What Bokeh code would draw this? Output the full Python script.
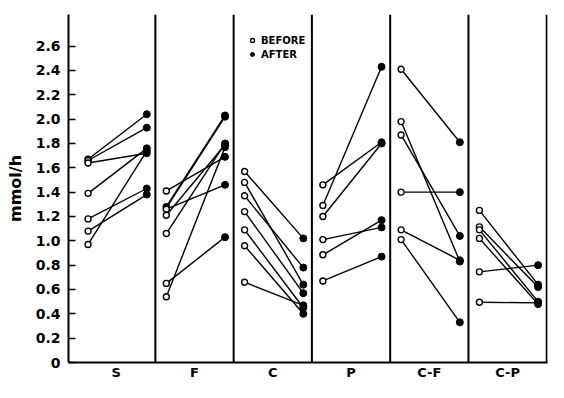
from bokeh.plotting import figure
from bokeh.models import Span, FixedTicker, Legend, LegendItem, Range1d
from bokeh.embed import file_html
from bokeh.resources import INLINE

categories = ["S", "F", "C", "P", "C-F", "C-P"]

before_S = [1.67, 1.66, 1.64, 1.39, 1.18, 1.08, 0.97]
after_S = [2.04, 1.93, 1.72, 1.76, 1.43, 1.38, 1.74]
before_F = [1.41, 1.28, 1.27, 1.26, 1.21, 1.06, 0.65, 0.54]
after_F = [1.69, 2.03, 2.02, 1.46, 1.79, 1.80, 1.03, 1.77]
before_C = [1.57, 1.48, 1.37, 1.24, 1.09, 0.96, 0.66]
after_C = [1.02, 0.64, 0.78, 0.57, 0.45, 0.40, 0.47]
before_P = [1.46, 1.29, 1.20, 1.01, 0.885, 0.67]
after_P = [1.81, 2.43, 1.80, 1.11, 1.17, 0.87]
before_CF = [2.41, 1.98, 1.87, 1.40, 1.09, 1.01]
after_CF = [1.81, 0.83, 1.04, 1.40, 0.84, 0.33]
before_CP = [1.25, 1.115, 1.09, 1.02, 0.745, 0.495]
after_CP = [0.64, 0.62, 0.50, 0.48, 0.80, 0.49]

y_ticks = [0, 0.2, 0.4, 0.6, 0.8, 1.0, 1.2, 1.4, 1.6, 1.8, 2.0, 2.2, 2.4, 2.6]
y_tick_labels = ["0", "0.2", "0.4", "0.6", "0.8", "1.0", "1.2", "1.4", "1.6",
                 "1.8", "2.0", "2.2", "2.4", "2.6"]

before_all = [before_S, before_F, before_C, before_P, before_CF, before_CP]
after_all = [after_S, after_F, after_C, after_P, after_CF, after_CP]

BX = 0.14   # position of "before" column inside a panel
AX = 0.89   # position of "after" column inside a panel

x0, y0, x1, y1 = [], [], [], []
for i, (b, a) in enumerate(zip(before_all, after_all)):
    for vb, va in zip(b, a):
        x0.append(i + BX); y0.append(vb)
        x1.append(i + AX); y1.append(va)

FONT = "DejaVu Sans"

p = figure(width=548, height=382, output_backend="svg", toolbar_location=None,
           x_range=Range1d(-0.11, 6.01), y_range=Range1d(0, 2.86),
           min_border_left=68, min_border_right=1, min_border_top=14,
           min_border_bottom=0)
p.grid.visible = False
p.outline_line_color = None
p.background_fill_color = "white"

# panel dividers and right border
for k in range(1, len(categories) + 1):
    p.add_layout(Span(location=k, dimension="height", line_color="black",
                      line_width=2))

p.segment(x0, y0, x1, y1, line_color="black", line_width=1.4)
rb = p.scatter(x0, y0, size=6, marker="circle", fill_color="white",
               line_color="black", line_width=1.4)
ra = p.scatter(x1, y1, size=7, marker="circle", fill_color="black",
               line_color="black")

# y axis
p.yaxis.ticker = FixedTicker(ticks=y_ticks)
p.yaxis.major_label_overrides = {t: l for t, l in zip(y_ticks, y_tick_labels)}
p.yaxis.major_tick_in = 7
p.yaxis.major_tick_out = 0
p.yaxis.minor_tick_line_color = None
p.yaxis.axis_line_width = 2
p.yaxis.major_tick_line_width = 1.5
p.yaxis.major_label_text_font = FONT
p.yaxis.major_label_text_font_style = "bold"
p.yaxis.major_label_text_font_size = "14px"
p.yaxis.major_label_text_color = "black"
p.yaxis.major_label_standoff = 8
p.yaxis.axis_label = "mmol/h"
p.yaxis.axis_label_text_font = FONT
p.yaxis.axis_label_text_font_style = "bold"
p.yaxis.axis_label_text_font_size = "16px"
p.yaxis.axis_label_text_color = "black"
p.yaxis.axis_label_standoff = 8

# x axis
centers = [i + 0.5 for i in range(len(categories))]
p.xaxis.ticker = FixedTicker(ticks=centers)
p.xaxis.major_label_overrides = {c: l for c, l in zip(centers, categories)}
p.xaxis.major_tick_in = 0
p.xaxis.major_tick_out = 0
p.xaxis.minor_tick_line_color = None
p.xaxis.axis_line_width = 2
p.xaxis.major_label_text_font = FONT
p.xaxis.major_label_text_font_style = "bold"
p.xaxis.major_label_text_font_size = "13px"
p.xaxis.major_label_text_color = "black"
p.xaxis.major_label_standoff = 2

legend = Legend(items=[LegendItem(label="BEFORE", renderers=[rb]),
                       LegendItem(label="AFTER", renderers=[ra])],
                location=(179, 301), orientation="vertical",
                label_text_font=FONT, label_text_font_style="bold",
                label_text_font_size="10px", label_text_color="black",
                glyph_width=10, glyph_height=14,
                label_height=14, label_standoff=4, spacing=0, padding=0,
                margin=0, border_line_color=None, background_fill_alpha=0)
p.add_layout(legend)

open("out.html", "w").write(file_html(p, INLINE))
